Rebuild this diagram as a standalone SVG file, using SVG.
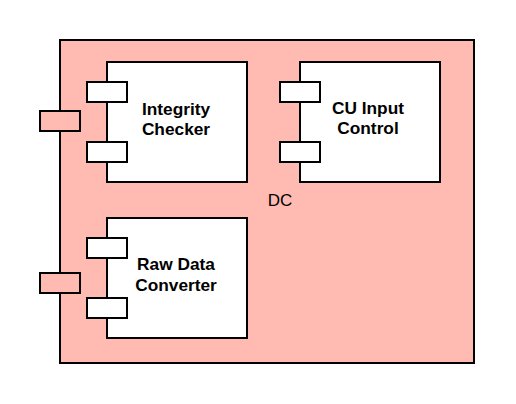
<svg xmlns="http://www.w3.org/2000/svg" width="516" height="404" viewBox="0 0 516 404">
<style>
.frame{fill:#FFBBB1;stroke:#000;stroke-width:2}
.comp{fill:#fff;stroke:#000;stroke-width:2}
.port{fill:#FFBBB1;stroke:#000;stroke-width:2}
.lbl{font-family:"Liberation Sans",Arial,sans-serif;font-size:17.3px;font-weight:bold;fill:#000;text-anchor:middle}
.dc{font-family:"Liberation Sans",Arial,sans-serif;font-size:17px;fill:#000;text-anchor:middle}
</style>
<g id="DC">
<rect class="frame" x="60" y="40" width="414" height="323"/>
<text class="dc" x="280" y="206">DC</text>
</g>
<g id="port1"><rect class="port" x="40" y="111" width="40" height="20"/></g>
<g id="port2"><rect class="port" x="40" y="273" width="40" height="20"/></g>
<g id="integrity-checker">
<rect class="comp" x="107" y="62" width="140" height="120"/>
<rect class="comp" x="87" y="82" width="40" height="20"/>
<rect class="comp" x="87" y="142" width="40" height="20"/>
<text class="lbl" x="176" y="115">Integrity</text>
<text class="lbl" x="176" y="135">Checker</text>
</g>
<g id="cu-input-control">
<rect class="comp" x="300" y="62" width="140" height="120"/>
<rect class="comp" x="280" y="82" width="40" height="20"/>
<rect class="comp" x="280" y="142" width="40" height="20"/>
<text class="lbl" x="368" y="114">CU Input</text>
<text class="lbl" x="368" y="134">Control</text>
</g>
<g id="raw-data-converter">
<rect class="comp" x="107" y="218" width="140" height="120"/>
<rect class="comp" x="87" y="238" width="40" height="20"/>
<rect class="comp" x="87" y="298" width="40" height="20"/>
<text class="lbl" x="176" y="270">Raw Data</text>
<text class="lbl" x="176" y="291">Converter</text>
</g>
<g id="connectors"></g>
</svg>
